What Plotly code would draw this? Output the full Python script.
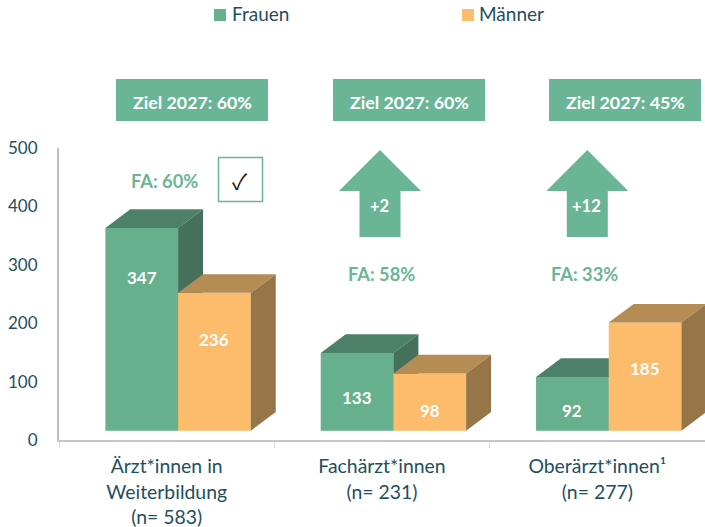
import plotly.graph_objects as go

# ---- data ----
categories = ["Ärzt*innen in<br>Weiterbildung<br>(n= 583)", "Fachärzt*innen<br>(n= 231)", "Oberärzt*innen¹<br>(n= 277)"]
frauen = [347, 133, 92]
maenner = [236, 98, 185]
series_names = ["Frauen", "Männer"]
ziel_labels = ["Ziel 2027: 60%", "Ziel 2027: 60%", "Ziel 2027: 45%"]
fa_labels = ["FA: 60%", "FA: 58%", "FA: 33%"]
change_labels = ["+2", "+12"]
y_ticks = [0, 100, 200, 300, 400, 500]

# ---- styling / geometry ----
FONT = "Lato"
TXT = "#1F4E5F"
GREEN, GREEN_TOP, GREEN_SIDE = "#66B08E", "#4D8069", "#45705B"
ORANGE, ORANGE_TOP, ORANGE_SIDE = "#FCBC6C", "#B58C54", "#967548"
BOX = "#6BB597"
W, H = 705, 527
L, R_EDGE, T, B_EDGE = 59, 705, 148, 440
BAR_W = 0.3376
GROUP_SHIFT = 0.553
BASE = 16
DX, DY = 0.116, 32


def px(x):
    return (x - L) / (R_EDGE - L)


def py(y):
    return (B_EDGE - y) / (B_EDGE - T)


def faces(values, offset, top, side, xa, ya):
    """Top and side faces of the extruded bars, derived from the values."""
    out = []
    for i, v in enumerate(values):
        x0 = i + GROUP_SHIFT + offset
        x1 = x0 + BAR_W
        h = BASE + v
        out.append(go.Scatter(x=[x0, x0 + DX, x1 + DX, x1, x0], y=[h, h + DY, h + DY, h, h],
                              fill="toself", fillcolor=top, mode="none", hoverinfo="skip",
                              showlegend=False, xaxis=xa, yaxis=ya))
        out.append(go.Scatter(x=[x1, x1 + DX, x1 + DX, x1, x1], y=[BASE, BASE + DY, h + DY, h, BASE],
                              fill="toself", fillcolor=side, mode="none", hoverinfo="skip",
                              showlegend=False, xaxis=xa, yaxis=ya))
    return out


fig = go.Figure()
n = len(categories)
green_x = [i + GROUP_SHIFT - BAR_W / 2 for i in range(n)]
orange_x = [i + GROUP_SHIFT + BAR_W / 2 for i in range(n)]

for t in faces(frauen, -BAR_W, GREEN_TOP, GREEN_SIDE, "x", "y"):
    fig.add_trace(t)
fig.add_trace(go.Bar(x=green_x, y=frauen, base=BASE, width=BAR_W, name=series_names[0],
                     marker=dict(color=GREEN, line=dict(width=0)), showlegend=False))
fig.add_trace(go.Bar(x=orange_x, y=maenner, base=BASE, width=BAR_W, name=series_names[1],
                     marker=dict(color=ORANGE, line=dict(width=0)), showlegend=False,
                     xaxis="x2", yaxis="y2"))
for t in faces(maenner, 0, ORANGE_TOP, ORANGE_SIDE, "x2", "y2"):
    fig.add_trace(t)

shapes = []
annos = []


def text(x, y, s, size=17, color=TXT, bold=False):
    annos.append(dict(x=px(x), y=py(y), xref="paper", yref="paper", text=f"<b>{s}</b>" if bold else s,
                      showarrow=False, xanchor="center", yanchor="middle",
                      font=dict(family=FONT, size=size, color=color)))


# value labels inside the bars
value_label_y = [(277, 397, 410), (339, 410, 368)]
for vals, cx, ys in zip((frauen, maenner), (green_x, orange_x), value_label_y):
    for v, x, y in zip(vals, cx, ys):
        text(L + x * (R_EDGE - L) / 3, y, str(v), 17, "white", True)

# legend
for name, color, sx, tx in zip(series_names, (GREEN, ORANGE), (214, 462), (260, 511)):
    shapes.append(dict(type="rect", xref="paper", yref="paper", x0=px(sx), x1=px(sx + 12), y0=py(21), y1=py(9),
                       fillcolor=color, line=dict(width=0)))
    text(tx, 14, name, 19)

# target boxes
for label, x0 in zip(ziel_labels, (116, 333, 549)):
    shapes.append(dict(type="rect", xref="paper", yref="paper", x0=px(x0), x1=px(x0 + 152), y0=py(121), y1=py(79),
                       fillcolor=BOX, line=dict(width=0)))
    text(x0 + 76, 102, label, 17.8, "white", True)

# FA labels
for label, x, y in zip(fa_labels, (164.5, 381, 584), (181, 274, 274)):
    text(x, y, label, 18.3, BOX, True)

# arrows
for label, cx, lx in zip(change_labels, (380, 587.3), (379.5, 586.7)):
    pts = [(cx, 150), (cx + 41, 191), (cx + 20.5, 191), (cx + 20.5, 237), (cx - 20.5, 237), (cx - 20.5, 191), (cx - 41, 191)]
    path = "M" + " L".join(f"{px(a):.5f},{py(b):.5f}" for a, b in pts) + " Z"
    shapes.append(dict(type="path", xref="paper", yref="paper", path=path, fillcolor=BOX, line=dict(width=0)))
    text(lx, 206, label, 16.5, "white", True)

# check box
shapes.append(dict(type="rect", xref="paper", yref="paper", x0=px(218.5), x1=px(262.5), y0=py(201.5), y1=py(157.5),
                   fillcolor="rgba(0,0,0,0)", line=dict(color=BOX, width=1.5)))
annos.append(dict(x=px(240), y=py(180), xref="paper", yref="paper", text="✓", showarrow=False,
                  xanchor="center", yanchor="middle",
                  font=dict(family="Noto Sans CJK SC", size=22, color="#222222")))

fig.update_layout(
    width=W, height=H, autosize=False,
    margin=dict(l=L, r=W - R_EDGE, t=T, b=H - B_EDGE, pad=0, autoexpand=False),
    paper_bgcolor="white", plot_bgcolor="white",
    showlegend=False, barmode="overlay",
    font=dict(family=FONT, size=17, color=TXT),
    shapes=shapes, annotations=annos,
    xaxis=dict(range=[0, 3], tickmode="array", tickvals=[i + 0.5 for i in range(n)], ticktext=categories,
               automargin=False,
               ticks="", showgrid=False, zeroline=False, showline=True, linecolor="#C8C8C8", linewidth=2,
               ticklabelstandoff=8, tickfont=dict(family=FONT, size=19.4, color=TXT),
               minor=dict(tickmode="array", tickvals=list(range(n + 1)), ticks="outside", ticklen=6,
                          tickcolor="#D9D9D9", tickwidth=1, showgrid=False)),
    yaxis=dict(range=[0, 500], tickmode="array", tickvals=y_ticks, ticks="", showgrid=False, zeroline=False,
               automargin=False,
               showline=True, linecolor="#BFBFBF", linewidth=2, ticklabelstandoff=16,
               tickfont=dict(family=FONT, size=17, color=TXT)),
    xaxis2=dict(range=[0, 3], overlaying="x", visible=False),
    yaxis2=dict(range=[0, 500], overlaying="y", visible=False),
)

fig.write_html("out.html", config={"displayModeBar": False},
               post_script="document.body.style.margin='0';")
